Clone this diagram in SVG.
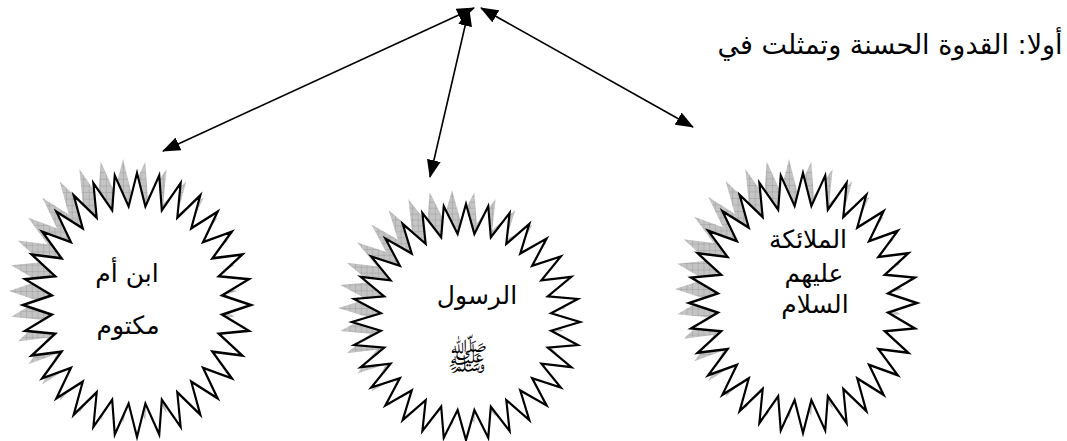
<svg xmlns="http://www.w3.org/2000/svg" xmlns:xlink="http://www.w3.org/1999/xlink" width="1067" height="441" viewBox="0 0 1067 441">
<style>
  .shadow { fill: url(#hatch); stroke: none; }
  .outline { fill: #ffffff; stroke: #000000; stroke-width: 1.9; stroke-linejoin: miter; }
  .lbl { font-family: "DejaVu Sans", "Liberation Sans", sans-serif; font-size: 25px; fill: #000; text-anchor: middle; }
  .conn { stroke: #000; stroke-width: 1.6; fill: none; marker-start: url(#ah); marker-end: url(#ah); }
</style>
<defs>
  <pattern id="hatch" patternUnits="userSpaceOnUse" width="5" height="5">
    <rect width="5" height="5" fill="#c4c4c4"/>
    <path d="M0,0 H5 M0,0 V5" stroke="#8f8f8f" stroke-width="0.6"/>
  </pattern>
  <marker id="ah" viewBox="0 0 18 14" markerUnits="userSpaceOnUse" markerWidth="18" markerHeight="14" refX="17" refY="7" orient="auto-start-reverse">
    <path d="M0,0 L18,7 L0,14 Z" fill="#000"/>
  </marker>
  <path id="star" d="M0,-100 L7.35,-74.64 L19.51,-98.08 L21.77,-71.77 L38.27,-92.39 L35.35,-66.14 L55.56,-83.15 L47.58,-57.98 L70.71,-70.71 L57.98,-47.58 L83.15,-55.56 L66.14,-35.35 L92.39,-38.27 L71.77,-21.77 L98.08,-19.51 L74.64,-7.35 L100,0 L74.64,7.35 L98.08,19.51 L71.77,21.77 L92.39,38.27 L66.14,35.35 L83.15,55.56 L57.98,47.58 L70.71,70.71 L47.58,57.98 L55.56,83.15 L35.35,66.14 L38.27,92.39 L21.77,71.77 L19.51,98.08 L7.35,74.64 L0,100 L-7.35,74.64 L-19.51,98.08 L-21.77,71.77 L-38.27,92.39 L-35.35,66.14 L-55.56,83.15 L-47.58,57.98 L-70.71,70.71 L-57.98,47.58 L-83.15,55.56 L-66.14,35.35 L-92.39,38.27 L-71.77,21.77 L-98.08,19.51 L-74.64,7.35 L-100,0 L-74.64,-7.35 L-98.08,-19.51 L-71.77,-21.77 L-92.39,-38.27 L-66.14,-35.35 L-83.15,-55.56 L-57.98,-47.58 L-70.71,-70.71 L-47.58,-57.98 L-55.56,-83.15 L-35.35,-66.14 L-38.27,-92.39 L-21.77,-71.77 L-19.51,-98.08 L-7.35,-74.64 Z"/>
</defs>
<rect width="1067" height="441" fill="#ffffff"/>

<g id="title">
  <text class="lbl" x="890" y="54" direction="rtl" style="font-size:27px">أولا: القدوة الحسنة وتمثلت في</text>
</g>

<g id="connectors">
  <line class="conn" x1="474" y1="8" x2="163" y2="151"/>
  <line class="conn" x1="469" y1="9" x2="430" y2="177"/>
  <line class="conn" x1="481" y1="8" x2="693" y2="127"/>
</g>

<g id="node-ibn-umm-maktoum">
  <use xlink:href="#star" class="shadow" transform="translate(123,291) scale(1.14,1.32)"/>
  <use xlink:href="#star" class="outline" transform="translate(137,305) scale(1.14,1.32)"/>
  <text class="lbl" x="127" y="282">ابن أم</text>
  <text class="lbl" x="128" y="334">مكتوم</text>
</g>

<g id="node-rasool">
  <use xlink:href="#star" class="shadow" transform="translate(452,308) scale(1.14,1.18)"/>
  <use xlink:href="#star" class="outline" transform="translate(466,322) scale(1.14,1.18)"/>
  <text class="lbl" x="477" y="304">الرسول</text>
  <text class="lbl" x="467" y="370" style="font-size:34px">ﷺ</text>
</g>

<g id="node-malaika">
  <use xlink:href="#star" class="shadow" transform="translate(789,289) scale(1.14,1.30)"/>
  <use xlink:href="#star" class="outline" transform="translate(803,303) scale(1.14,1.30)"/>
  <text class="lbl" x="808" y="248">الملائكة</text>
  <text class="lbl" x="814" y="282">عليهم</text>
  <text class="lbl" x="815" y="313">السلام</text>
</g>
</svg>
